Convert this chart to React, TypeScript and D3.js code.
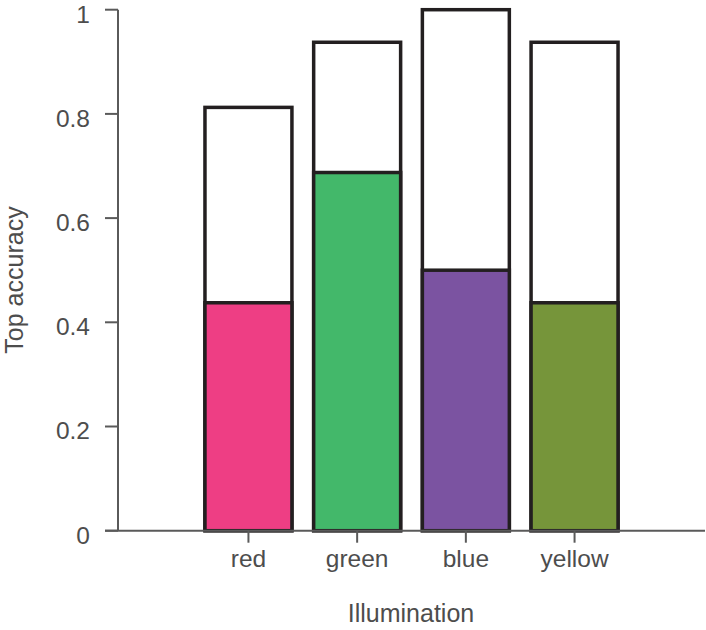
import React from "react";
import * as d3 from "d3";

const categories = ["red", "green", "blue", "yellow"];
const totalValues = [0.8125, 0.9375, 1.0, 0.9375];
const topValues = [0.4375, 0.6875, 0.5, 0.4375];
const barColors = ["#ee3e84", "#43b86a", "#7b53a1", "#76953a"];
const yTicks = [0, 0.2, 0.4, 0.6, 0.8, 1];
const yTickLabels = ["0", "0.2", "0.4", "0.6", "0.8", "1"];

const W = 706;
const H = 630;
const FONT = "'Liberation Sans', Arial, Helvetica, sans-serif";
const TEXT = "#4d4d4d";
const AXIS = "#5a5a5a";
const STROKE = "#231f20";

export default function App() {
  const x = d3
    .scaleBand<string>()
    .domain(categories)
    .range([118, 705])
    .paddingInner(0.2)
    .paddingOuter(0.8);
  const y = d3.scaleLinear().domain([0, 1]).range([530.7, 9.7]);
  const bw = x.bandwidth();

  return (
    <svg
      width={W}
      height={H}
      style={{ position: "absolute", left: 0, top: 0, background: "#fff" }}
      fontFamily={FONT}
    >
      {categories.map((c, i) => (
        <g key={c}>
          <rect
            x={x(c)!}
            y={y(totalValues[i])}
            width={bw}
            height={y(0) - y(totalValues[i])}
            fill="#fff"
            stroke={STROKE}
            strokeWidth={3.5}
          />
          <rect
            x={x(c)!}
            y={y(topValues[i])}
            width={bw}
            height={y(0) - y(topValues[i])}
            fill={barColors[i]}
            stroke={STROKE}
            strokeWidth={3.5}
          />
        </g>
      ))}
      <line x1={118} x2={118} y1={y(1)} y2={y(0)} stroke={AXIS} strokeWidth={2} />
      {yTicks.map((t, i) => (
        <g key={t}>
          <line x1={105} x2={118} y1={y(t)} y2={y(t)} stroke={AXIS} strokeWidth={2} />
          <text x={90} y={y(t) + 12.8} textAnchor="end" fontSize={24.5} fill={TEXT}>
            {yTickLabels[i]}
          </text>
        </g>
      ))}
      <line x1={105} x2={705} y1={y(0)} y2={y(0)} stroke={AXIS} strokeWidth={2} />
      {categories.map((c) => {
        const cx = x(c)! + bw / 2;
        return (
          <g key={c}>
            <line x1={cx} x2={cx} y1={y(0)} y2={y(0) + 12} stroke={AXIS} strokeWidth={2} />
            <text x={cx} y={567} textAnchor="middle" fontSize={24.5} fill={TEXT}>
              {c}
            </text>
          </g>
        );
      })}
      <text x={411} y={622} textAnchor="middle" fontSize={25} fill={TEXT}>
        Illumination
      </text>
      <text
        transform={`translate(23,280) rotate(-90)`}
        textAnchor="middle"
        fontSize={25}
        fill={TEXT}
      >
        Top accuracy
      </text>
    </svg>
  );
}
